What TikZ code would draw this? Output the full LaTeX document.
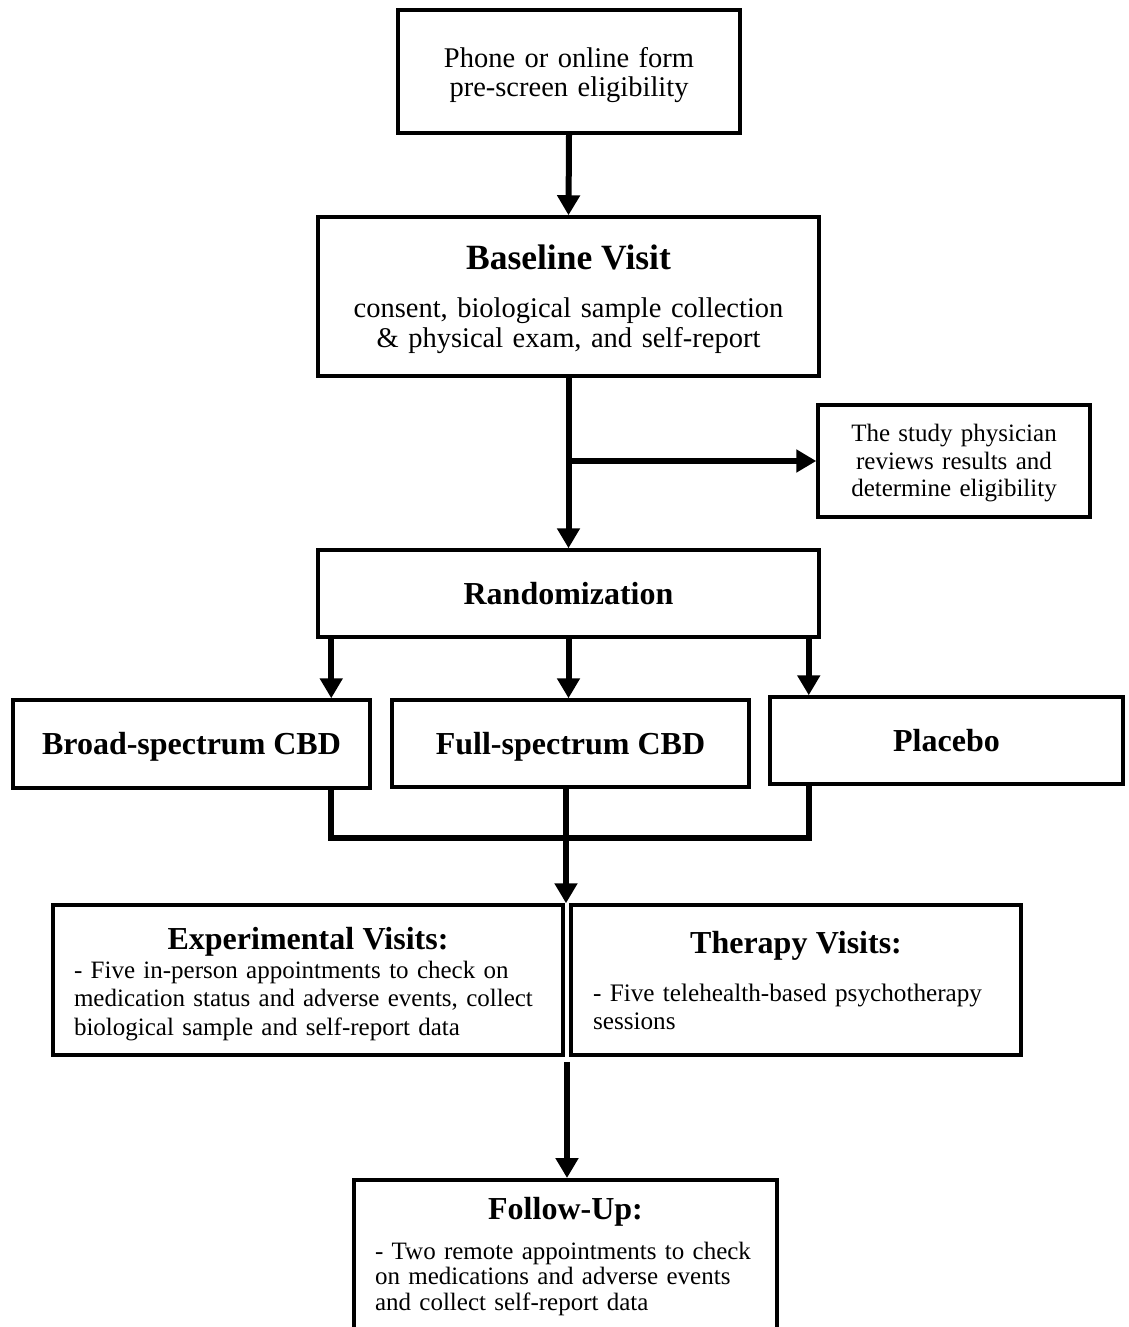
\documentclass[tikz,border=0pt]{standalone}
\usepackage{fontspec}
\setmainfont{Liberation Serif}
\usetikzlibrary{arrows.meta,calc}
\newcommand\fixsp{\spaceskip=\fontdimen2\font\relax}
\begin{document}
\begin{tikzpicture}[x=1pt,y=-1pt,
  box/.style={draw, line width=3.5pt, rectangle, inner sep=0pt},
  txt/.style={inner sep=0pt, anchor=base},
  arr/.style={line width=6pt, -{Triangle[length=20pt,width=22pt]}},
  conn/.style={line width=6pt, line join=miter},
  hd/.style={font=\bfseries\fontsize{32}{34}\selectfont}]
\useasboundingbox[fill=white] (0,0) rectangle (1129,1327);

% boxes
\node[box, minimum width=342, minimum height=123] (pre) at (569,71.5) {};
\node[box, minimum width=501, minimum height=159] (base) at (568.5,296.5) {};
\node[box, minimum width=272, minimum height=112] (phys) at (954,461) {};
\node[box, minimum width=501, minimum height=87] (rand) at (568.5,593.5) {};
\node[box, minimum width=357, minimum height=88] (broad) at (191.5,744) {};
\node[box, minimum width=357, minimum height=87] (full) at (570.5,743.5) {};
\node[box, minimum width=353, minimum height=87] (plac) at (946.5,740.5) {};
\node[box, minimum width=510, minimum height=150] (exp) at (308,980) {};
\node[box, minimum width=450, minimum height=150] (ther) at (796,980) {};
\node[box, anchor=north, minimum width=423, minimum height=175] (fu) at (565.5,1178) {};

% texts
\node[txt, text width=330pt, align=center, font=\fontsize{28.5}{29}\selectfont\fixsp] (preT) at ($(pre.north)+(0,59)$)
  {Phone or online form\\pre-screen eligibility};

\node[txt, text width=480pt, align=center, font=\fontsize{28.5}{30}\selectfont\fixsp] (baseT) at ($(base.north)+(0,54.5)$)
  {{\bfseries\fontsize{35.5}{36}\selectfont\fixsp Baseline Visit}\\[18pt]consent, biological sample collection\\\& physical exam, and self-report};

\node[txt, text width=260pt, align=center, font=\fontsize{25}{27.5}\selectfont\fixsp] (physT) at ($(phys.north)+(0,38.5)$)
  {The study physician\\reviews results and\\determine eligibility};

\node[txt, hd] (randT) at ($(rand.north)+(0,56)$) {Randomization};
\node[txt, hd] (broadT) at ($(broad.north)+(0,56)$) {Broad-spectrum CBD};
\node[txt, hd] (fullT) at ($(full.north)+(0,56)$) {Full-spectrum CBD};
\node[txt, hd] (placT) at ($(plac.north)+(0,56)$) {Placebo};

\node[txt, text width=468pt, align=left, font=\fontsize{25}{28.5}\selectfont\fixsp] (expT) at ($(exp.north)+(0,46.5)$)
  {\makebox[\linewidth][c]{\bfseries\fontsize{32}{34}\selectfont Experimental Visits:}\\
   - Five in-person appointments to check on\\medication status and adverse events, collect\\biological sample and self-report data};

\node[txt, text width=406pt, align=left, font=\fontsize{25.2}{28}\selectfont\fixsp] (therT) at ($(ther.north)+(0,50)$)
  {\makebox[\linewidth][c]{\bfseries\fontsize{32}{34}\selectfont Therapy Visits:}\\[20pt]
   - Five telehealth-based psychotherapy\\sessions};

\node[txt, text width=381pt, align=left, font=\fontsize{25}{25.5}\selectfont\fixsp] (fuT) at ($(fu.north)+(0,41)$)
  {\makebox[\linewidth][c]{\bfseries\fontsize{32}{34}\selectfont Follow-Up:}\\[14.5pt]
   - Two remote appointments to check\\on medications and adverse events\\and collect self-report data};

% connectors
\draw[arr] (pre.south) -- (base.north);
\draw[arr] (base.south) -- (rand.north);
\coordinate (br) at (base.south |- phys.west);
\draw[arr] (br) -- (phys.west);

\coordinate (r1) at ([xshift=15pt]rand.south west);
\coordinate (r3) at ([xshift=-12pt]rand.south east);
\draw[arr] (r1) -- (r1 |- broad.north);
\draw[arr] (rand.south) -- (rand.south |- full.north);
\draw[arr] (r3) -- (r3 |- plac.north);

\coordinate (b1) at (r1 |- broad.south);
\coordinate (b3) at (r3 |- plac.south);
\coordinate (mrg) at (566,838);
\draw[conn] (b1) -- (b1 |- mrg) -- (b3 |- mrg) -- (b3);
\coordinate (fs) at (mrg |- full.south);
\coordinate (gap) at ($(exp.north east)!0.5!(ther.north west)$);
\draw[arr] (fs) -- (fs |- gap);

\coordinate (eb) at ($(exp.south east)!0.5!(ther.south west)+(0,5)$);
\draw[arr] (eb) -- (eb |- fu.north);
\end{tikzpicture}
\end{document}
